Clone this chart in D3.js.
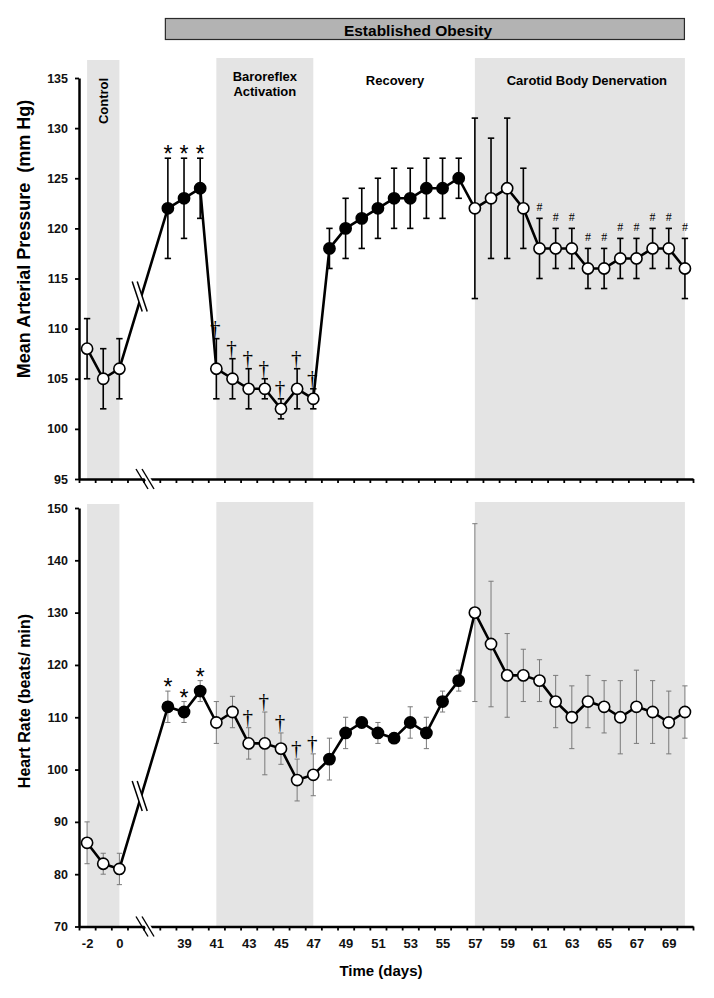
<!DOCTYPE html>
<html>
<head>
<meta charset="utf-8">
<script src="https://cdn.jsdelivr.net/npm/d3@7"></script>
<style>
  body { margin: 0; background: #fff; }
  svg { display: block; font-family: "Liberation Sans", Arial, sans-serif; }
</style>
</head>
<body>
<svg id="chart" width="714" height="998"></svg>
<script>
// days on the x axis; days 1-37 are compressed into a break
const days = [-2, -1, 0, 38, 39, 40, 41, 42, 43, 44, 45, 46, 47, 48, 49, 50, 51, 52, 53, 54, 55, 56,
  57, 58, 59, 60, 61, 62, 63, 64, 65, 66, 67, 68, 69, 70];
const filledDays = [38, 39, 40, 48, 49, 50, 51, 52, 53, 54, 55, 56];

const mapMean = [108, 105, 106, 122, 123, 124, 106, 105, 104, 104, 102, 104, 103, 118, 120, 121, 122, 123, 123, 124, 124, 125,
  122, 123, 124, 122, 118, 118, 118, 116, 116, 117, 117, 118, 118, 116];
const mapErr = [3, 3, 3, 5, 4, 3, 3, 2, 2, 1, 1, 2, 1, 2, 3, 3, 3, 3, 3, 3, 3, 2,
  9, 6, 7, 4, 3, 2, 2, 2, 2, 2, 2, 2, 2, 3];

const hrMean = [86, 82, 81, 112, 111, 115, 109, 111, 105, 105, 104, 98, 99, 102, 107, 109, 107, 106, 109, 107, 113, 117,
  130, 124, 118, 118, 117, 113, 110, 113, 112, 110, 112, 111, 109, 111];
const hrErr = [4, 2, 3, 3, 2, 2, 4, 3, 3, 6, 3, 4, 4, 4, 3, 1, 2, 1, 3, 3, 2, 2,
  17, 12, 8, 5, 4, 5, 6, 5, 5, 7, 7, 6, 6, 5];

const mapStars = [38, 39, 40];
const mapDaggers = [41, 42, 43, 44, 45, 46, 47];
const mapHashes = [61, 62, 63, 64, 65, 66, 67, 68, 69, 70];
const hrStars = [38, 39, 40];
const hrDaggers = [43, 44, 45, 46, 47];

const periods = [
  { label: ["Control"], from: -2, to: 0, shaded: true, vertical: true },
  { label: ["Baroreflex", "Activation"], from: 41, to: 47, shaded: true },
  { label: ["Recovery"], from: 48, to: 56, shaded: false },
  { label: ["Carotid Body Denervation"], from: 57, to: 70, shaded: true }
];

const mapTicks = [95, 100, 105, 110, 115, 120, 125, 130, 135];
const hrTicks = [70, 80, 90, 100, 110, 120, 130, 140, 150];
const xLabelDays = [-2, 0, 39, 41, 43, 45, 47, 49, 51, 53, 55, 57, 59, 61, 63, 65, 67, 69];

const slot = d => (d <= 0 ? d + 2 : d - 33);

const svg = d3.select("#chart");
const x = d3.scaleLinear().domain([-0.5, 37.5]).range([79, 693]);

const panels = [
  { mean: mapMean, err: mapErr, ticks: mapTicks, domain: [95, 135], range: [479, 78], shadeTop: 58,
    barColor: "#000", barWidth: 1.6, cap: 3.2, stars: mapStars, daggers: mapDaggers, hashes: mapHashes,
    title: "Mean Arterial Pressure  (mm Hg)", titleY: 239, titleFS: "18px", labels: true },
  { mean: hrMean, err: hrErr, ticks: hrTicks, domain: [70, 150], range: [926.5, 508], shadeTop: 502,
    barColor: "#7a7a7a", barWidth: 1, cap: 2.6, stars: hrStars, daggers: hrDaggers, hashes: [],
    title: "Heart Rate (beats/ min)", titleY: 701, titleFS: "16px", labels: false }
];

// header bar
svg.append("rect")
  .attr("x", x(slot(38)) - 2.5).attr("y", 18.5)
  .attr("width", x(slot(70)) - x(slot(38)) + 2).attr("height", 21)
  .attr("fill", "#b3b3b3").attr("stroke", "#2a2a2a").attr("stroke-width", 1.2);
svg.append("text")
  .attr("x", 418).attr("y", 35.5)
  .attr("text-anchor", "middle")
  .style("font-weight", "bold").style("font-size", "15.5px")
  .text("Established Obesity");

panels.forEach((p, pi) => {
  const y = d3.scaleLinear().domain(p.domain).range(p.range);
  const g = svg.append("g");
  const bottom = p.range[0];

  // shaded periods
  g.selectAll(".shade")
    .data(periods.filter(d => d.shaded))
    .join("rect")
    .attr("x", d => x(slot(d.from)))
    .attr("y", d => (d.vertical ? p.shadeTop + 2 : p.shadeTop))
    .attr("width", d => x(slot(d.to)) - x(slot(d.from)))
    .attr("height", d => bottom - (d.vertical ? p.shadeTop + 2 : p.shadeTop))
    .attr("fill", "#e4e4e4");

  // period labels (top panel only)
  if (p.labels) {
    periods.forEach(d => {
      const cx = (x(slot(d.from)) + x(slot(d.to))) / 2;
      if (d.vertical) {
        g.append("text")
          .attr("transform", `translate(${cx + 4.5},101) rotate(-90)`)
          .attr("text-anchor", "middle")
          .style("font-weight", "bold").style("font-size", "13px")
          .text(d.label[0]);
      } else {
        const t = g.append("text")
          .attr("text-anchor", "middle")
          .style("font-weight", "bold").style("font-size", "13px");
        d.label.forEach((l, i) => {
          t.append("tspan").attr("x", d.label.length > 1 ? cx : cx + (d.from === 57 ? 7 : 1))
            .attr("y", (d.label.length > 1 ? 80.5 : 85) + i * 15.5).text(l);
        });
      }
    });
  }

  // y axis
  const yAxis = g.append("g")
    .attr("transform", "translate(79,0)")
    .call(d3.axisLeft(y).tickValues(p.ticks).tickSize(4).tickPadding(7).tickSizeOuter(0));
  yAxis.select(".domain").attr("stroke-width", 2.5);
  yAxis.selectAll(".tick line").attr("stroke-width", 1.8);
  yAxis.selectAll(".tick text")
    .style("font-weight", "bold").style("font-size", "12.5px").attr("fill", "#111");

  // x axis: ticks between categories
  const xAxis = g.append("g")
    .attr("transform", `translate(0,${bottom})`)
    .call(d3.axisBottom(x).tickValues(d3.range(-0.5, 38, 1)).tickSize(4).tickSizeOuter(0).tickFormat(""));
  xAxis.select(".domain").attr("stroke-width", 2.5);
  xAxis.selectAll(".tick line").attr("stroke-width", 1.8);
  if (pi === 1) {
    g.append("g")
      .attr("transform", `translate(0,${bottom})`)
      .call(d3.axisBottom(x).tickValues(xLabelDays.map(slot)).tickSize(0).tickPadding(12)
        .tickFormat(i => xLabelDays[xLabelDays.map(slot).indexOf(i)]))
      .call(a => a.select(".domain").remove())
      .selectAll("text")
      .style("font-weight", "bold").style("font-size", "13px").attr("fill", "#111");
  }

  // axis break marks
  const bx = 148;
  g.append("polygon")
    .attr("points", `${bx - 9},${bottom - 10} ${bx - 3},${bottom - 10} ${bx + 9},${bottom + 10} ${bx + 3},${bottom + 10}`)
    .attr("fill", "#fff");
  [-6, 0].forEach(o => {
    g.append("line")
      .attr("x1", bx - 9 + o + 3).attr("y1", bottom - 10)
      .attr("x2", bx + 3 + o + 3).attr("y2", bottom + 10)
      .attr("stroke", "#000").attr("stroke-width", 1.4);
  });

  // y title
  svg.append("text")
    .attr("transform", `translate(30,${p.titleY}) rotate(-90)`)
    .attr("text-anchor", "middle")
    .style("white-space", "pre")
    .style("font-weight", "bold").style("font-size", p.titleFS)
    .text(p.title);

  const pts = days.map((d, i) => ({ day: d, v: p.mean[i], e: p.err[i] }));

  // error bars
  const eb = g.selectAll(".eb").data(pts).join("g")
    .attr("stroke", p.barColor).attr("stroke-width", p.barWidth);
  eb.append("line")
    .attr("x1", d => x(slot(d.day))).attr("x2", d => x(slot(d.day)))
    .attr("y1", d => y(d.v - d.e)).attr("y2", d => y(d.v + d.e));
  [1, -1].forEach(s => {
    eb.append("line")
      .attr("x1", d => x(slot(d.day)) - p.cap).attr("x2", d => x(slot(d.day)) + p.cap)
      .attr("y1", d => y(d.v + s * d.e)).attr("y2", d => y(d.v + s * d.e));
  });

  // connecting line
  g.append("path")
    .datum(pts)
    .attr("fill", "none").attr("stroke", "#000").attr("stroke-width", 2.6)
    .attr("stroke-linejoin", "round")
    .attr("d", d3.line().x(d => x(slot(d.day))).y(d => y(d.v)));

  // break marks on the line between day 0 and day 38
  const a = pts.find(d => d.day === 0), b = pts.find(d => d.day === 38);
  const cx = x(slot(a.day)) + 0.45 * (x(slot(b.day)) - x(slot(a.day)));
  const cy = y(a.v) + 0.45 * (y(b.v) - y(a.v));
  const mdx = 5, mdy = 15;
  g.append("polygon")
    .attr("points", `${cx - 4 - mdx},${cy - mdy} ${cx + 1 - mdx},${cy - mdy} ${cx + 1 + mdx},${cy + mdy} ${cx - 4 + mdx},${cy + mdy}`)
    .attr("fill", "#fff");
  [-4, 1].forEach(o => {
    g.append("line")
      .attr("x1", cx + o - mdx).attr("y1", cy - mdy)
      .attr("x2", cx + o + mdx).attr("y2", cy + mdy)
      .attr("stroke", "#000").attr("stroke-width", 1.5);
  });

  // markers
  g.selectAll(".pt").data(pts).join("circle")
    .attr("cx", d => x(slot(d.day))).attr("cy", d => y(d.v))
    .attr("r", 5.6)
    .attr("fill", d => (filledDays.includes(d.day) ? "#000" : "#fff"))
    .attr("stroke", "#000").attr("stroke-width", 1.6);

  // significance symbols
  const sym = (list, ch, font, size, dy, weight) => {
    g.selectAll(null).data(pts.filter(d => list.includes(d.day))).join("text")
      .attr("x", d => x(slot(d.day)) - (ch === "\u2020" ? 1 : 0))
      .attr("y", d => y(d.v + d.e) - dy)
      .attr("text-anchor", "middle")
      .attr("fill", "#000")
      .style("font-family", font).style("font-size", size)
      .style("font-weight", weight)
      .text(ch);
  };
  sym(p.stars, "*", "Liberation Sans, Arial", "23px", -4, "normal");
  sym(p.daggers, "\u2020", "Liberation Serif, Times New Roman", "21px", 4, "normal");
  sym(p.hashes, "#", "Liberation Serif, Times New Roman", "12px", 7, "normal");
});

svg.append("text")
  .attr("x", 381).attr("y", 976)
  .attr("text-anchor", "middle")
  .style("font-weight", "bold").style("font-size", "15px")
  .text("Time (days)");
</script>
</body>
</html>
